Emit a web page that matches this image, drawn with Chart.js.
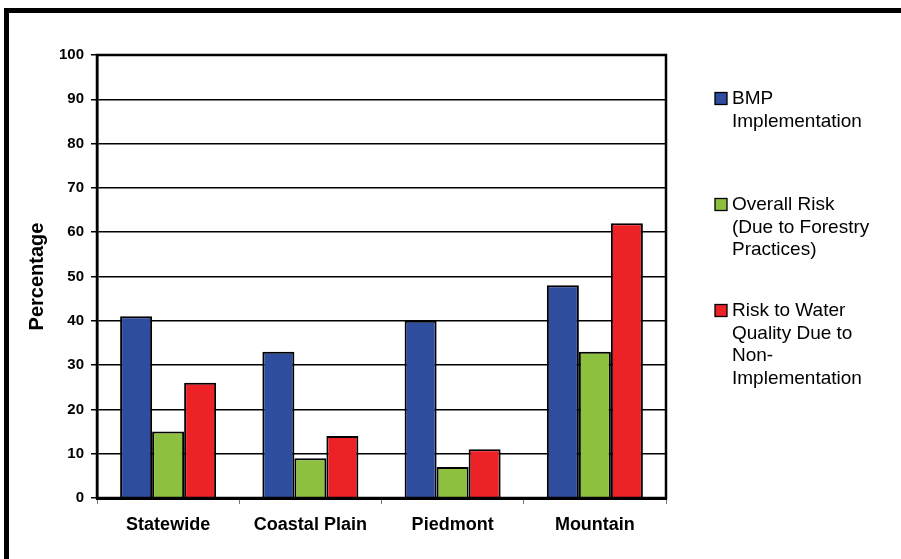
<!DOCTYPE html>
<html>
<head>
<meta charset="utf-8">
<script src="https://cdn.jsdelivr.net/npm/chart.js@4/dist/chart.umd.min.js"></script>
<style>
  html, body { margin: 0; padding: 0; background: #fff; }
  #wrap { position: relative; width: 901px; height: 559px; overflow: hidden; }
  #frame { position: absolute; left: 4px; top: 8px; right: -10px; bottom: -10px;
           border-left: 5px solid #000; border-top: 5px solid #000; pointer-events: none; }
  canvas { position: absolute; left: 0; top: 0; }
</style>
</head>
<body>
<div id="wrap">
  <canvas id="chart" width="901" height="559"></canvas>
  <div id="frame"></div>
</div>
<script>
const regions = ["Statewide", "Coastal Plain", "Piedmont", "Mountain"];
const bmpImplementation = [41, 33, 40, 48];
const overallRisk = [15, 9, 7, 33];
const waterQualityRisk = [26, 14, 11, 62];
const legendLines = [
  ["BMP", "Implementation"],
  ["Overall Risk", "(Due to Forestry", "Practices)"],
  ["Risk to Water", "Quality Due to", "Non-", "Implementation"],
];

const FONT = "Arial, 'Liberation Sans', sans-serif";
const BLUE = "#2f4d9e";
const GREEN = "#8dc03f";
const RED = "#ed2226";

// frame round the plot + legend on the right
const extras = {
  id: "extras",
  afterDraw(chart) {
    const { ctx, chartArea: a } = chart;
    ctx.save();
    ctx.strokeStyle = "#000";
    ctx.lineWidth = 2.5;
    ctx.strokeRect(a.left, a.top, a.right - a.left, a.bottom - a.top);

    const tops = [99, 205, 311];
    ctx.font = "19px " + FONT;
    ctx.textBaseline = "middle";
    chart.data.datasets.forEach((ds, i) => {
      const y = tops[i];
      ctx.fillStyle = ds.backgroundColor;
      ctx.fillRect(715, y - 6.5, 12, 12);
      ctx.lineWidth = 1.3;
      ctx.strokeStyle = "#000";
      ctx.strokeRect(715, y - 6.5, 12, 12);
      ctx.fillStyle = "#000";
      legendLines[i].forEach((t, j) => ctx.fillText(t, 732, y + j * 22.5));
    });
    ctx.restore();
  },
};

new Chart(document.getElementById("chart"), {
  type: "bar",
  data: {
    labels: regions,
    datasets: [
      { label: "BMP Implementation", data: bmpImplementation, backgroundColor: BLUE },
      { label: "Overall Risk (Due to Forestry Practices)", data: overallRisk, backgroundColor: GREEN },
      { label: "Risk to Water Quality Due to Non-Implementation", data: waterQualityRisk, backgroundColor: RED },
    ],
  },
  options: {
    responsive: false, animation: false,
    layout: { padding: { left: 10, top: 55, right: 235, bottom: 11 } },
    datasets: { bar: { borderColor: "#000", borderWidth: 2, categoryPercentage: 0.675, barPercentage: 1 } },
    scales: {
      y: {
        min: 0, max: 100,
        ticks: { stepSize: 10, color: "#000", padding: 7, font: { family: FONT, size: 15, weight: "bold" } },
        grid: { color: "#000", lineWidth: 1.5, tickLength: 6 },
        border: { color: "#000", width: 2.5 },
        title: { display: true, text: "Percentage", color: "#000", padding: { top: 15 },
                 font: { family: FONT, size: 20, weight: "bold" } },
        afterFit(s) { s.width = 87; },
      },
      x: {
        ticks: { color: "#000", padding: 10, font: { family: FONT, size: 18, weight: "bold" } },
        grid: { offset: true, drawOnChartArea: false, color: "#777", tickLength: 6 },
        border: { color: "#000", width: 3 },
        afterFit(s) { s.height = 50; },
      },
    },
    plugins: { legend: { display: false }, tooltip: { enabled: false } },
  },
  plugins: [extras],
});
</script>
</body>
</html>
